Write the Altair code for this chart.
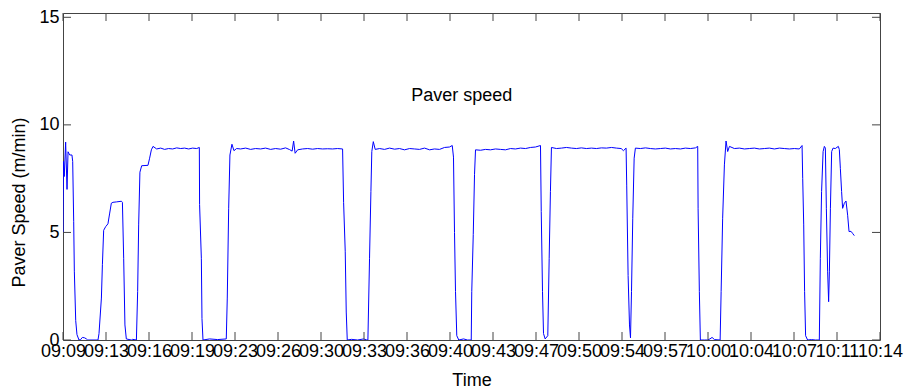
import json
import altair as alt
import pandas as pd

# ---- data (time in minutes after 09:00, speed in m/min) ----
TIME_MIN = [
    9.60, 9.64, 9.70, 9.81, 9.92, 10.00, 10.13, 10.31, 10.37, 10.45, 10.50, 10.61, 10.71, 10.87,
    11.00, 11.14, 11.32, 11.46, 11.56, 12.38, 12.46, 12.65, 12.73, 12.83, 12.99, 13.17, 13.31,
    13.44, 13.57, 13.86, 14.24, 14.32, 14.42, 14.52, 14.63, 15.03, 15.13, 15.43, 15.53, 15.61,
    15.71, 15.85, 16.35, 16.48, 16.62, 16.75,
    17.04, 17.36, 17.67, 17.99, 18.31, 18.63, 18.95, 19.26, 19.58, 19.90, 20.22, 20.43,
    20.45, 20.59, 20.64, 20.72, 21.25, 21.88, 22.57, 22.65, 22.76, 22.86, 23.02, 23.18, 23.39,
    23.71, 24.11, 24.50, 24.90, 25.30, 25.69, 26.09, 26.49, 26.89, 27.28, 27.60, 27.80, 27.92,
    28.04, 28.24, 28.63, 29.03, 29.43, 29.82, 30.22, 30.62, 31.01, 31.41, 31.81,
    31.89, 32.02, 32.10, 32.18, 32.52, 33.00, 33.48, 33.74, 33.82, 33.95, 34.06, 34.13, 34.25,
    34.40, 34.75, 35.14, 35.54, 35.94, 36.33, 36.73, 37.13, 37.53, 37.92, 38.32, 38.72, 39.11,
    39.51, 39.91, 40.30, 40.52,
    40.62, 40.70, 40.78, 40.88, 41.04, 41.42, 41.73, 42.03, 42.07, 42.19, 42.29, 42.37,
    42.77, 43.16, 43.56, 43.96, 44.35, 44.75, 45.15, 45.54, 45.94, 46.34, 46.74, 47.13, 47.53,
    47.59, 47.69, 47.77, 47.90, 48.11, 48.22, 48.32, 48.40,
    48.80, 49.20, 49.59, 49.99, 50.39, 50.78, 51.18, 51.58, 51.98, 52.37, 52.77, 53.17, 53.56,
    53.94, 54.12, 54.33,
    54.38, 54.49, 54.60, 54.68, 54.76, 54.86, 54.97, 55.07,
    55.47, 55.87, 56.26, 56.66, 57.06, 57.45, 57.85, 58.25, 58.65, 59.04, 59.44, 59.84, 60.02,
    60.05, 60.15, 60.23, 60.55, 60.81, 60.99, 61.16, 61.35, 61.80, 61.88, 62.00, 62.14, 62.27,
    62.40, 62.54,
    62.93, 63.33, 63.73, 64.12, 64.52, 64.92, 65.32, 65.71, 66.11, 66.51, 66.90, 67.30, 67.70,
    68.09, 68.31,
    68.36, 68.44, 68.51, 68.59, 68.75, 69.05, 69.36, 69.68, 69.76, 69.86, 69.98, 70.08, 70.16,
    70.24, 70.34, 70.42, 70.48, 70.56, 70.66, 70.77, 70.95, 71.19, 71.27, 71.35, 71.45, 71.53,
    71.67, 71.80, 71.93, 72.04, 72.20, 72.33, 72.46,
]
SPEED = [
    5.0, 8.3, 7.6, 9.2, 7.0, 8.75, 8.6, 8.6, 8.3, 5.5, 3.2, 0.9, 0.25, 0.0,
    0.02, 0.12, 0.1, 0.05, 0.0, 0.0, 0.3, 1.95, 3.5, 5.1, 5.27, 5.4, 5.9,
    6.36, 6.4, 6.42, 6.45, 6.4, 3.8, 0.7, 0.05, 0.0, 0.03, 0.0, 2.25, 5.35,
    7.8, 8.1, 8.12, 8.45, 8.84, 9.0,
    8.88, 8.92, 8.86, 8.9, 8.88, 8.93, 8.9, 8.92, 8.88, 8.92, 8.9, 8.95,
    6.3, 3.8, 1.0, 0.0, 0.05, 0.02, 0.05, 1.95, 6.1, 8.6, 9.1, 8.8, 8.9,
    8.88, 8.92, 8.86, 8.9, 8.88, 8.92, 8.86, 8.9, 8.87, 8.93, 8.85, 8.78, 9.25,
    8.68, 8.84, 8.88, 8.9, 8.87, 8.9, 8.88, 8.89, 8.88, 8.9, 8.88,
    6.4, 4.1, 1.3, 0.0, 0.03, 0.0, 0.05, 0.0, 0.0, 3.8, 6.9, 8.76, 9.22,
    8.86, 8.9, 8.86, 8.92, 8.87, 8.9, 8.84, 8.9, 8.88, 8.86, 8.92, 8.84, 8.88,
    8.86, 8.95, 8.97, 9.04,
    8.5, 5.0, 2.25, 0.2, 0.0, 0.05, 0.0, 0.0, 2.25, 4.9, 7.7, 8.84,
    8.82, 8.86, 8.84, 8.88, 8.86, 8.84, 8.9, 8.88, 8.92, 8.9, 8.95, 8.97, 9.04,
    5.97, 2.25, 0.3, 0.05, 0.2, 3.8, 6.9, 8.95,
    8.9, 8.92, 8.95, 8.92, 8.9, 8.93, 8.9, 8.92, 8.9, 8.93, 8.92, 8.95, 8.92,
    8.9, 8.8, 8.92,
    7.2, 3.0, 0.7, 0.1, 2.25, 5.66, 8.45, 8.92,
    8.9, 8.93, 8.9, 8.88, 8.9, 8.92, 8.88, 8.9, 8.88, 8.92, 8.9, 8.93, 9.0,
    6.1, 2.25, 0.0, 0.0, 0.0, 0.05, 0.12, 0.02, 0.0, 2.25, 5.66, 8.14, 9.25,
    8.76, 9.0,
    8.9, 8.92, 8.88, 8.9, 8.92, 8.88, 8.9, 8.92, 8.88, 8.92, 8.9, 8.88, 8.9,
    8.88, 9.04,
    7.5, 5.35, 2.25, 0.2, 0.0, 0.02, 0.0, 0.0, 3.8, 6.9, 8.76, 9.0, 8.92,
    6.1, 3.2, 1.78, 3.2, 6.1, 8.76, 8.92, 8.9, 9.0, 8.85, 7.98, 6.9, 6.12,
    6.36, 6.46, 5.8, 5.04, 5.05, 4.95, 4.85,
]

X_START = 9.6     # left edge of the time axis (minutes after 09:00)
X_END = 74.5      # right edge of the time axis
TICK_LABELS = ["09:09", "09:13", "09:16", "09:19", "09:23", "09:26", "09:30", "09:33",
               "09:36", "09:40", "09:43", "09:47", "09:50", "09:54", "09:57", "10:00",
               "10:04", "10:07", "10:11", "10:14"]
Y_TICKS = [0, 5, 10, 15]

step = (X_END - X_START) / (len(TICK_LABELS) - 1)
TICK_VALUES = [X_START + i * step for i in range(len(TICK_LABELS))]

W, H = 817, 327
FONT = "Liberation Sans"
AXIS_COLOR = "#444444"
TICK_LEN = 8

df = pd.DataFrame({"t": TIME_MIN, "speed": SPEED})
xt = pd.DataFrame({"t": TICK_VALUES})
yt = pd.DataFrame({"speed": Y_TICKS})

x_scale = alt.Scale(domain=[X_START, X_END], nice=False, zero=False)
y_scale = alt.Scale(domain=[0, 15.2], nice=False, zero=True)

label_expr = (json.dumps(TICK_LABELS)
              + f"[round((datum.value - {X_START}) / {step})]")

x_axis = alt.Axis(values=TICK_VALUES, labelExpr=label_expr, ticks=False,
                  domain=False, grid=False, labelOverlap=False,
                  labelFlush=False, labelBound=False,
                  labelFont=FONT, labelFontSize=18, labelColor="black",
                  labelPadding=11, labelBaseline="middle",
                  title="Time", titleFont=FONT, titleFontSize=18,
                  titleFontWeight="normal", titleColor="black",
                  titleY=40, titleBaseline="middle")
y_axis = alt.Axis(values=Y_TICKS, ticks=False, domain=False, grid=False,
                  labelFont=FONT, labelFontSize=18, labelColor="black",
                  labelPadding=4,
                  title="Paver Speed (m/min)", titleFont=FONT,
                  titleFontSize=18, titleFontWeight="normal",
                  titleColor="black", titleX=-44, titleY=189,
                  titleBaseline="middle")

X = alt.X("t:Q", scale=x_scale, axis=x_axis)
Y = alt.Y("speed:Q", scale=y_scale, axis=y_axis)

line = alt.Chart(df).mark_line(color="#0000FF", strokeWidth=1, clip=True).encode(x=X, y=Y)

x_ticks_bottom = alt.Chart(xt).mark_rule(color=AXIS_COLOR, strokeWidth=1).encode(
    x=X, y=alt.value(H), y2=alt.value(H - TICK_LEN))
x_ticks_top = alt.Chart(xt).mark_rule(color=AXIS_COLOR, strokeWidth=1).encode(
    x=X, y=alt.value(0), y2=alt.value(TICK_LEN))
y_ticks_left = alt.Chart(yt).mark_rule(color=AXIS_COLOR, strokeWidth=1).encode(
    y=Y, x=alt.value(0), x2=alt.value(TICK_LEN))
y_ticks_right = alt.Chart(yt).mark_rule(color=AXIS_COLOR, strokeWidth=1).encode(
    y=Y, x=alt.value(W), x2=alt.value(W - TICK_LEN))

title_txt = alt.Chart(pd.DataFrame({"label": ["Paver speed"]})).mark_text(
    font=FONT, fontSize=18, color="black", align="center", baseline="middle"
).encode(x=alt.value(398.7), y=alt.value(83), text="label:N")

chart = alt.layer(
    line, x_ticks_bottom, x_ticks_top, y_ticks_left, y_ticks_right, title_txt
).properties(
    width=W, height=H,
    autosize=alt.AutoSizeParams(type="none"),
    padding={"left": 63, "top": 13, "right": 24, "bottom": 49},
    background="white",
).configure_view(stroke=AXIS_COLOR, strokeWidth=1)

chart.save("out.html", embed_options={"renderer": "svg", "actions": False})
